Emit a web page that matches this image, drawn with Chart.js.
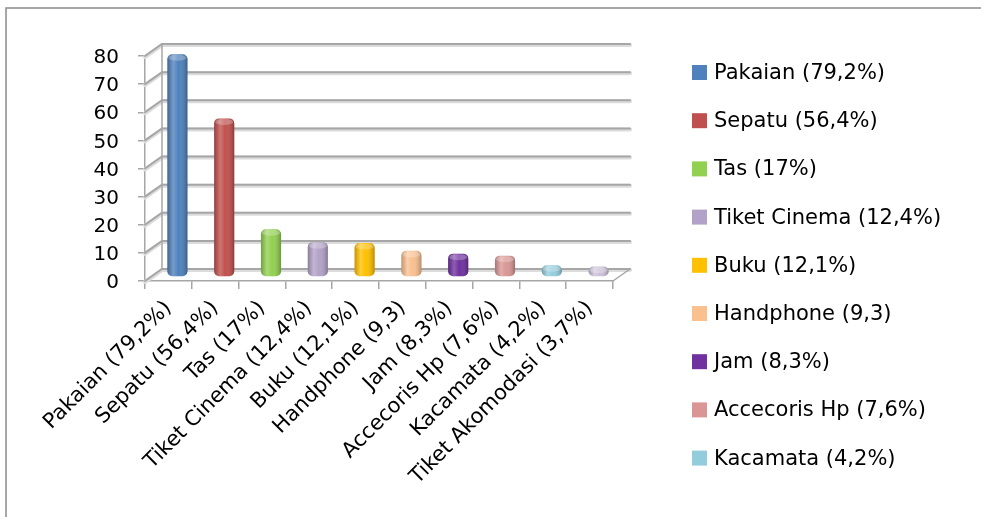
<!DOCTYPE html>
<html>
<head>
<meta charset="utf-8">
<script src="https://cdn.jsdelivr.net/npm/chart.js@4.4.1/dist/chart.umd.min.js"></script>
<style>
  html, body { margin: 0; padding: 0; background: #fff; }
</style>
</head>
<body>
<canvas id="onlineShopChart" width="981" height="517"></canvas>
<script>
// Data
const categories = ['Pakaian (79,2%)', 'Sepatu (56,4%)', 'Tas (17%)', 'Tiket Cinema (12,4%)', 'Buku (12,1%)',
    'Handphone (9,3)', 'Jam (8,3%)', 'Accecoris Hp (7,6%)', 'Kacamata (4,2%)', 'Tiket Akomodasi (3,7%)'];
const values = [79.2, 56.4, 17, 12.4, 12.1, 9.3, 8.3, 7.6, 4.2, 3.7];
const barColors = ['#4f81bd', '#c0504d', '#92d050', '#b3a2c7', '#ffc000',
    '#fac090', '#7030a0', '#d99694', '#93cddd', '#ccc1da'];
const yTickValues = [0, 10, 20, 30, 40, 50, 60, 70, 80];
const legendCount = 9; // the reference legend only shows the first nine entries

const FONT = '"DejaVu Sans", sans-serif';
const DEPTH_X = 17, DEPTH_Y = 12;   // offset of the back wall
const BAR_X = 9, BAR_Y = -4;        // bars sit halfway into the depth
const GRID = '#a6a6a6';

// 3D-ish wall, floor and cylinder shading
const wall3d = {
    id: 'wall3d',
    beforeDatasetsDraw(chart) {
        const {ctx, chartArea: a, scales: {y}} = chart;
        ctx.save();
        ctx.lineCap = 'round';
        // soft shadow pass then the line itself
        [['#dcdcdc', 4, 1], [GRID, 2, 0]].forEach(([col, w, off]) => {
            ctx.strokeStyle = col;
            ctx.lineWidth = w;
            yTickValues.forEach(v => {
                const py = y.getPixelForValue(v) + off;
                ctx.beginPath();
                ctx.moveTo(a.left, py);
                ctx.lineTo(a.left + DEPTH_X, py - DEPTH_Y);
                ctx.lineTo(a.right + DEPTH_X, py - DEPTH_Y);
                ctx.stroke();
            });
        });
        ctx.strokeStyle = GRID;
        ctx.lineWidth = 1.5;
        ctx.beginPath();
        ctx.moveTo(a.left + DEPTH_X, y.getPixelForValue(0) - DEPTH_Y);
        ctx.lineTo(a.left + DEPTH_X, y.getPixelForValue(80) - DEPTH_Y);
        ctx.moveTo(a.right, a.bottom);
        ctx.lineTo(a.right + DEPTH_X, a.bottom - DEPTH_Y);
        ctx.stroke();
        ctx.restore();

        ctx.save();
        ctx.translate(BAR_X, BAR_Y);
    },
    afterDatasetsDraw(chart) {
        const ctx = chart.ctx;
        const meta = chart.getDatasetMeta(0);
        meta.data.forEach(bar => {
            const w = bar.width, x0 = bar.x - w / 2;
            const top = Math.min(bar.y, bar.base), h = Math.abs(bar.base - bar.y);
            const g = ctx.createLinearGradient(x0, 0, x0 + w, 0);
            g.addColorStop(0, 'rgba(0,0,0,0.22)');
            g.addColorStop(0.3, 'rgba(255,255,255,0.22)');
            g.addColorStop(0.55, 'rgba(255,255,255,0)');
            g.addColorStop(1, 'rgba(0,0,0,0.28)');
            ctx.fillStyle = g;
            ctx.beginPath();
            ctx.roundRect(x0, top, w, h, 5);
            ctx.fill();
            // lighter cap
            ctx.fillStyle = 'rgba(255,255,255,0.25)';
            ctx.beginPath();
            ctx.ellipse(bar.x, top + 3.5, w / 2 - 1, 3, 0, 0, Math.PI * 2);
            ctx.fill();
        });
        ctx.restore();
    }
};

// frame round the picture and the legend on the right
const frameAndLegend = {
    id: 'frameAndLegend',
    afterDraw(chart) {
        const ctx = chart.ctx;
        ctx.save();
        ctx.strokeStyle = '#8a8a8a';
        ctx.lineWidth = 1.5;
        ctx.beginPath();
        ctx.moveTo(6, 530);
        ctx.lineTo(6, 8);
        ctx.lineTo(990, 8);
        ctx.stroke();

        ctx.font = '21px ' + FONT;
        ctx.textBaseline = 'middle';
        for (let i = 0; i < legendCount; i++) {
            const cy = 72.5 + i * 48.2;
            ctx.fillStyle = barColors[i];
            ctx.fillRect(692, cy - 7.5, 15, 15);
            ctx.fillStyle = '#000';
            ctx.fillText(categories[i], 714, cy + 1);
        }
        ctx.restore();
    }
};

const ctx = document.getElementById('onlineShopChart').getContext('2d');

const onlineShopChart = new Chart(ctx, {
    type: 'bar',
    data: {
        labels: categories,
        datasets: [{
            data: values,
            backgroundColor: barColors,
            borderWidth: 0,
            borderRadius: 5,
            borderSkipped: false,
            categoryPercentage: 1,
            barPercentage: 0.43
        }]
    },
    options: {
        responsive: false,
        animation: false,
        layout: { padding: { top: 56, right: 368, left: 0, bottom: 0 } },
        scales: {
            y: {
                min: 0,
                max: 80,
                afterBuildTicks: s => { s.ticks = yTickValues.map(v => ({ value: v })); },
                afterFit: s => { s.width = 145; },
                ticks: { font: { family: FONT, size: 20 }, color: '#000', padding: 19, labelOffset: 2 },
                grid: { drawOnChartArea: false, tickLength: 7, color: GRID, lineWidth: 1.5 },
                border: { color: GRID, width: 1.5 }
            },
            x: {
                offset: true,
                afterFit: s => { s.height = 236; },
                ticks: {
                    autoSkip: false, minRotation: 45, maxRotation: 45,
                    font: { family: FONT, size: 21 }, color: '#000', padding: 7
                },
                grid: { drawOnChartArea: false, offset: true, tickLength: 8, color: GRID, lineWidth: 1.5 },
                border: { color: GRID, width: 1.5 }
            }
        },
        plugins: {
            legend: { display: false },
            tooltip: { enabled: false }
        }
    },
    plugins: [wall3d, frameAndLegend]
});
</script>
</body>
</html>
